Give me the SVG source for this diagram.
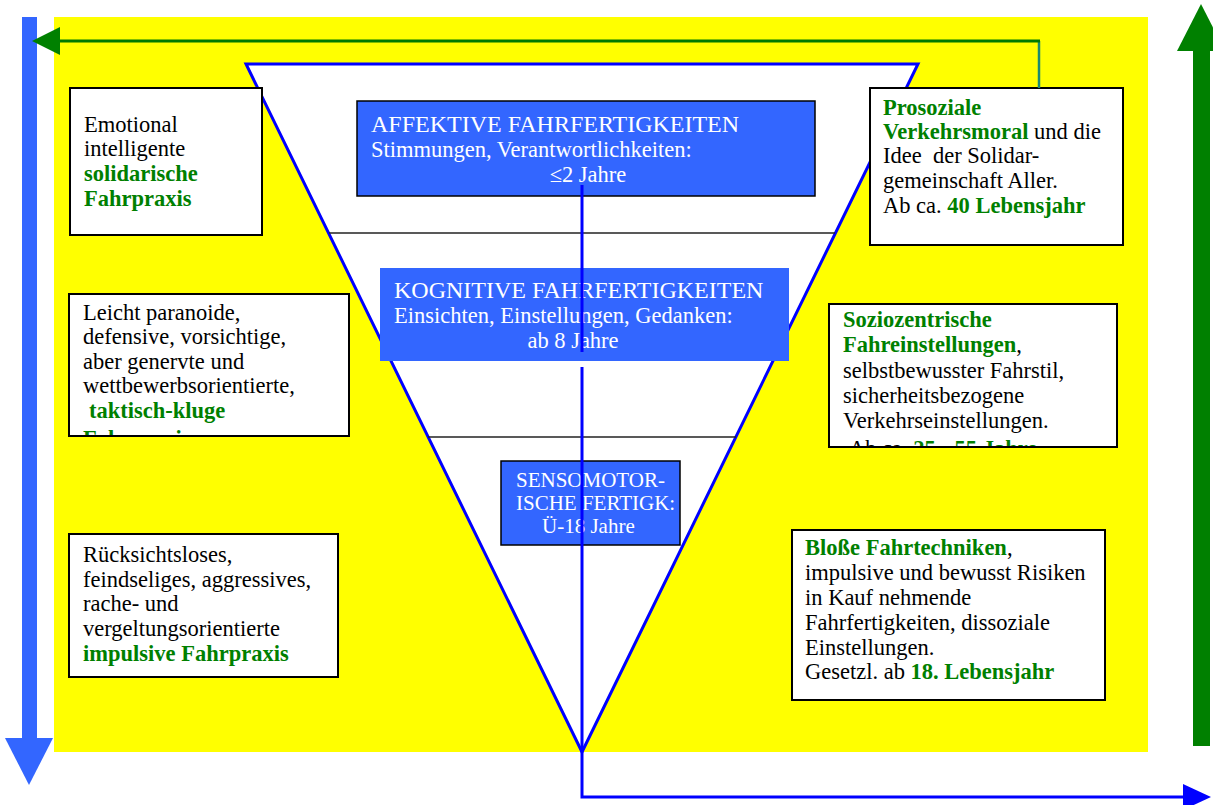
<svg xmlns="http://www.w3.org/2000/svg" width="1213" height="805" viewBox="0 0 1213 805">
<style>
text{font-family:"Liberation Serif","Times New Roman",serif;font-size:22.5px;fill:#000}
.w{fill:#fff}
.cap{font-size:24px}
.g{fill:#008000;font-weight:bold}
.box{fill:#fff;stroke:#000;stroke-width:2}
.blue{fill:#3366ff}
</style>
<defs>
<clipPath id="c2"><rect x="69" y="294" width="279" height="141"/></clipPath>
<clipPath id="c5"><rect x="829" y="305" width="287" height="141"/></clipPath>
</defs>
<rect x="54" y="17" width="1094" height="735" fill="#ffff00"/>
<g id="axis-left">
<rect x="22" y="17" width="15" height="722" fill="#3366ff"/>
<polygon points="5,738 53,738 29,785" fill="#3366ff"/>
</g>
<g id="axis-right">
<rect x="1193" y="50" width="17" height="696" fill="#008000"/>
<polygon points="1177,51 1225,51 1201,4" fill="#008000"/>
</g>
<g id="triangle">
<polygon points="246,64 918,64 582,752" fill="#fff" stroke="#0000ff" stroke-width="3"/>
<line x1="329" y1="233" x2="835" y2="233" stroke="#222" stroke-width="1.5"/>
<line x1="428" y1="437" x2="736" y2="437" stroke="#222" stroke-width="1.5"/>
</g>
<g id="affektiv">
<rect x="357" y="101" width="458" height="95" class="blue" stroke="#000" stroke-width="1.5"/>
<text x="371" y="132" class="w cap">AFFEKTIVE FAHRFERTIGKEITEN</text>
<text x="371" y="157" class="w">Stimmungen, Verantwortlichkeiten:</text>
<text x="588" y="182" class="w" text-anchor="middle">≤2 Jahre</text>
</g>
<g id="kognitiv">
<rect x="380" y="268" width="409" height="93" class="blue"/>
<text x="394" y="298" class="w cap">KOGNITIVE FAHRFERTIGKEITEN</text>
<text x="394" y="323" class="w">Einsichten, Einstellungen, Gedanken:</text>
<text x="573" y="348" class="w" text-anchor="middle">ab 8 Jahre</text>
</g>
<g id="sensomotorisch">
<rect x="501" y="461" width="179" height="84" class="blue" stroke="#000" stroke-width="1.5"/>
<text x="516" y="487" class="w" style="font-size:21px">SENSOMOTOR-</text>
<text x="516" y="510" class="w" style="font-size:21px">ISCHE FERTIGK:</text>
<text x="542" y="533" class="w" style="font-size:21px">Ü-18 Jahre</text>
</g>
<g id="box-emotional">
<rect x="70" y="88" width="192" height="147" class="box"/>
<text x="84" y="132">Emotional</text>
<text x="84" y="156">intelligente</text>
<text x="84" y="181" class="g">solidarische</text>
<text x="84" y="206" class="g">Fahrpraxis</text>
</g>
<g id="box-paranoid">
<rect x="69" y="294" width="280" height="142" class="box"/>
<g clip-path="url(#c2)">
<text x="83" y="320">Leicht paranoide,</text>
<text x="83" y="344">defensive, vorsichtige,</text>
<text x="83" y="369">aber genervte und</text>
<text x="83" y="393">wettbewerbsorientierte,</text>
<text x="89" y="418" class="g">taktisch-kluge</text>
<text x="83" y="446" class="g">Fahrpraxis</text>
</g>
</g>
<g id="box-ruecksichtslos">
<rect x="69" y="534" width="269" height="143" class="box"/>
<text x="83" y="562">Rücksichtsloses,</text>
<text x="83" y="587">feindseliges, aggressives,</text>
<text x="83" y="611">rache- und</text>
<text x="83" y="636">vergeltungsorientierte</text>
<text x="83" y="661" class="g">impulsive Fahrpraxis</text>
</g>
<g id="box-prosozial">
<rect x="870" y="88" width="253" height="157" class="box"/>
<text x="883" y="115" class="g">Prosoziale</text>
<text x="883" y="139"><tspan class="g">Verkehrsmoral</tspan> und die</text>
<text x="883" y="163">Idee&#160; der Solidar-</text>
<text x="883" y="188">gemeinschaft Aller.</text>
<text x="883" y="213">Ab ca. <tspan class="g">40 Lebensjahr</tspan></text>
</g>
<g id="box-soziozentrisch">
<rect x="829" y="304" width="288" height="143" class="box"/>
<g clip-path="url(#c5)">
<text x="843" y="327" class="g">Soziozentrische</text>
<text x="843" y="352"><tspan class="g">Fahreinstellungen</tspan>,</text>
<text x="843" y="378">selbstbewusster Fahrstil,</text>
<text x="843" y="403">sicherheitsbezogene</text>
<text x="843" y="428">Verkehrseinstellungen.</text>
<text x="849" y="456">Ab ca. <tspan class="g">25 - 55 Jahre</tspan></text>
</g>
</g>
<g id="box-blosse">
<rect x="792" y="530" width="313" height="170" class="box"/>
<text x="805" y="555"><tspan class="g">Bloße Fahrtechniken</tspan>,</text>
<text x="805" y="580">impulsive und bewusst Risiken</text>
<text x="805" y="605">in Kauf nehmende</text>
<text x="805" y="630">Fahrfertigkeiten, dissoziale</text>
<text x="805" y="655">Einstellungen.</text>
<text x="805" y="679">Gesetzl. ab <tspan class="g">18. Lebensjahr</tspan></text>
</g>
<g id="connectors" fill="none">
<polyline points="1039,88 1039,41" stroke="#1a8a70" stroke-width="2.5"/>
<line x1="1040" y1="41" x2="58" y2="41" stroke="#007a00" stroke-width="3"/>
<polygon points="32,41 60,27 60,55" fill="#008000"/>
<line x1="582" y1="185" x2="582" y2="352" stroke="#0000ff" stroke-width="3"/>
<polyline points="582,367 582,797 1184,797" stroke="#0000ff" stroke-width="3"/>
<polygon points="1183,784 1211,797 1183,810" fill="#0000ff"/>
</g>
</svg>
